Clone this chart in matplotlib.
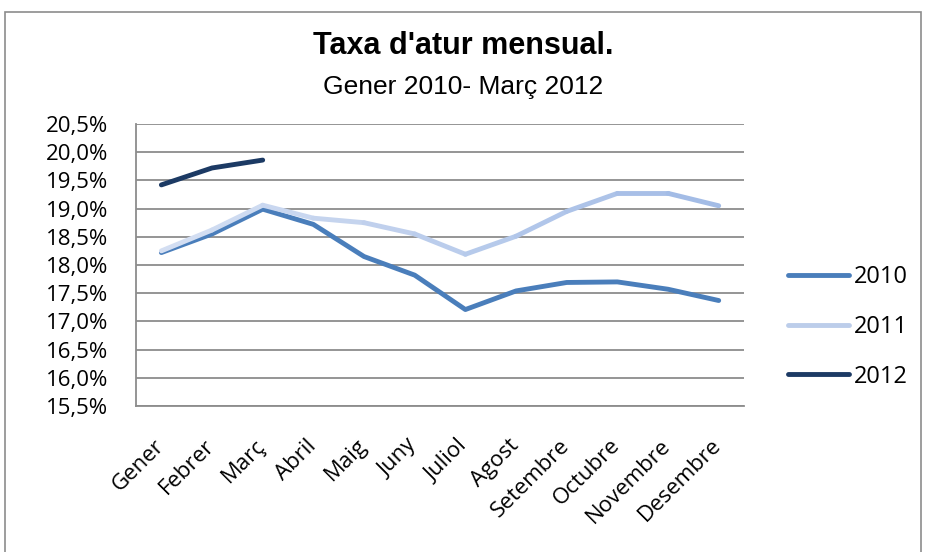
import matplotlib
matplotlib.use("Agg")
from matplotlib import pyplot as plt
from matplotlib.patches import Rectangle
from matplotlib.collections import LineCollection
from matplotlib.lines import Line2D
from matplotlib.colors import to_rgb
from matplotlib.ticker import FuncFormatter
from matplotlib.transforms import ScaledTranslation
import numpy as np

months = ["Gener", "Febrer", "Març", "Abril", "Maig", "Juny", "Juliol",
          "Agost", "Setembre", "Octubre", "Novembre", "Desembre"]

# taxa d'atur (%) per mes
atur_2010 = [18.22, 18.55, 18.99, 18.72, 18.15, 17.82, 17.21, 17.54, 17.69, 17.70, 17.57, 17.37]
atur_2011 = [18.25, 18.62, 19.06, 18.83, 18.75, 18.55, 18.19, 18.51, 18.95, 19.27, 19.27, 19.05]
atur_2012 = [19.42, 19.72, 19.86]

years = ["2010", "2011", "2012"]
col_2010 = "#4a7ebb"
col_2011_start, col_2011_end = "#d3def2", "#a3bce6"
col_2012 = "#1c3a64"

font = "Open Sans"
fsize = 16

fig = plt.figure(figsize=(9.26, 5.52), dpi=100)
ax = fig.add_axes([0.1469, 0.2645, 0.6566, 0.5109])

# outer chart frame
fig.patches.append(Rectangle((0.005, -0.05), 0.99, 1.028, transform=fig.transFigure,
                             fill=False, edgecolor="#8c8c8c", linewidth=1.2))

x = np.arange(len(months))
lw = 3.5
ax.plot(x, atur_2010, color=col_2010, linewidth=lw,
        solid_capstyle="round", solid_joinstyle="round")

# 2011 amb degradat de color (com a l'original)
pts = np.column_stack([x, atur_2011])
segs = np.stack([pts[:-1], pts[1:]], axis=1)
c0, c1 = np.array(to_rgb(col_2011_start)), np.array(to_rgb(col_2011_end))
t = np.linspace(0, 1, len(segs))
seg_cols = [tuple(c0 + (c1 - c0) * ti) for ti in t]
ax.add_collection(LineCollection(segs, colors=seg_cols, linewidths=lw,
                                 capstyle="round", joinstyle="round"))

ax.plot(x[:len(atur_2012)], atur_2012, color=col_2012, linewidth=lw,
        solid_capstyle="round", solid_joinstyle="round")

ax.set_xlim(-0.5, len(months) - 0.5)
ax.set_ylim(15.5, 20.5)
ax.set_yticks(np.arange(15.5, 20.51, 0.5))
ax.yaxis.set_major_formatter(FuncFormatter(lambda v, p: f"{v:.1f}%".replace(".", ",")))
ax.grid(axis="y", color="#8c8c8c", linewidth=1.3)
ax.set_axisbelow(True)
for s in ["top", "right"]:
    ax.spines[s].set_visible(False)
for s in ["left", "bottom"]:
    ax.spines[s].set_color("#8c8c8c")
    ax.spines[s].set_linewidth(1.3)
ax.tick_params(axis="y", length=0, labelsize=fsize, pad=20)
ax.tick_params(axis="x", length=0, labelsize=fsize, pad=21)

ax.set_xticks(x)
ax.set_xticklabels(months, rotation=45, ha="right", va="top", rotation_mode="anchor",
                   fontfamily=font, fontsize=fsize)
shift = ScaledTranslation(-0.08, 0, fig.dpi_scale_trans)
for lab in ax.get_xticklabels():
    lab.set_transform(lab.get_transform() + shift)
for lab in ax.get_yticklabels():
    lab.set_fontfamily(font)

fig.text(0.5, 0.916, "Taxa d'atur mensual.", ha="center", va="center",
         fontsize=22, fontweight="bold", fontfamily="Liberation Sans")
fig.text(0.5, 0.843, "Gener 2010- Març 2012", ha="center", va="center",
         fontsize=19, fontfamily="Liberation Sans")

handles = [Line2D([], [], color=col_2010, linewidth=lw, solid_capstyle="round"),
           Line2D([], [], color="#bccdea", linewidth=lw, solid_capstyle="round"),
           Line2D([], [], color=col_2012, linewidth=lw, solid_capstyle="round")]
fig.legend(handles, years, loc="center left", bbox_to_anchor=(0.828, 0.408), frameon=False,
           handlelength=2.6, labelspacing=1.1, handletextpad=0.2,
           prop={"family": font, "size": 17})

plt.savefig("out.png", dpi=100)
